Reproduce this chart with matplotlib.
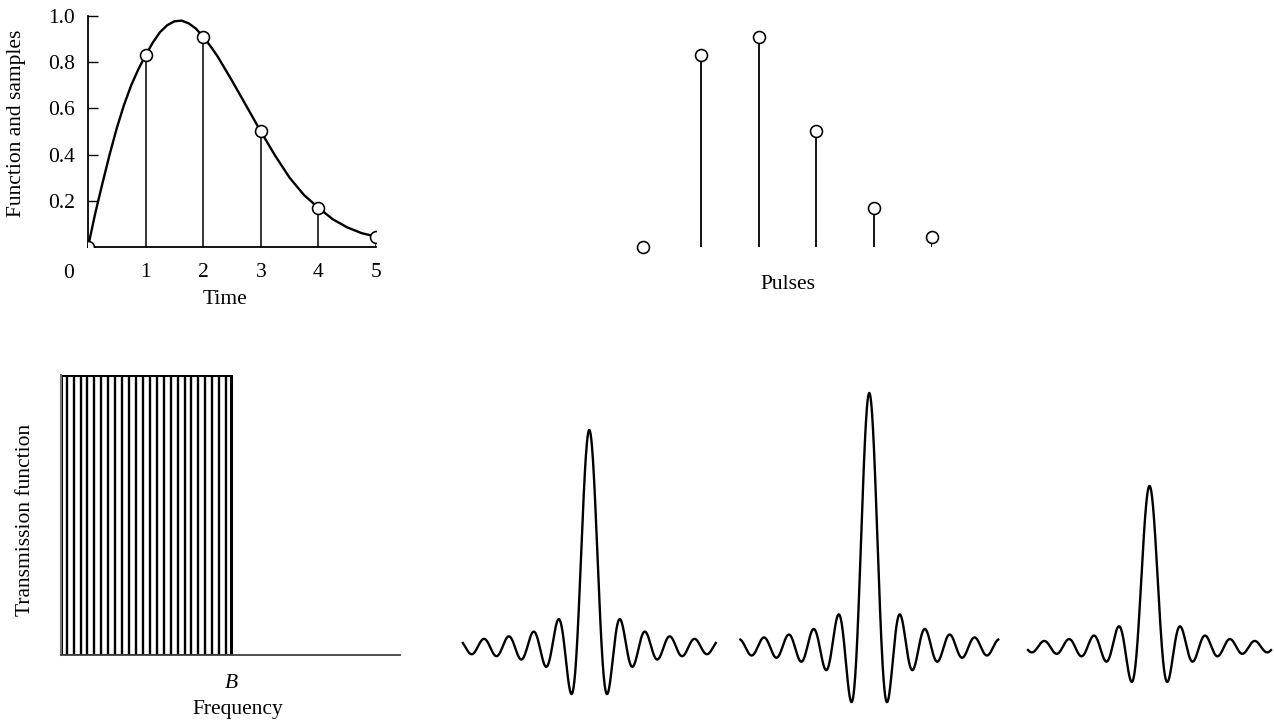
import numpy as np
import matplotlib
matplotlib.use("Agg")
import matplotlib.pyplot as plt

plt.rcParams['font.family'] = ['Liberation Serif', 'DejaVu Serif']
plt.rcParams['font.size'] = 15.5

t_curve = [0, 0.125, 0.25, 0.375, 0.5, 0.625, 0.75, 0.875, 1.0, 1.125, 1.25, 1.375,
           1.5, 1.625, 1.75, 1.875, 2.0, 2.125, 2.25, 2.5,
           2.75, 3.0, 3.25, 3.5, 3.75, 4.0, 4.25, 4.5, 4.75, 5.0]
f_curve = [0, 0.145, 0.275, 0.40, 0.515, 0.615, 0.70, 0.77, 0.83, 0.885, 0.93, 0.96,
           0.977, 0.98, 0.968, 0.945, 0.91, 0.87, 0.825, 0.72,
           0.61, 0.50, 0.395, 0.30, 0.225, 0.17, 0.12, 0.085, 0.06, 0.045]
sample_t = [0, 1, 2, 3, 4, 5]
sample_v = [0.0, 0.83, 0.91, 0.50, 0.17, 0.045]
ytick_vals = [0.2, 0.4, 0.6, 0.8, 1.0]
ytick_labels = ['0.2', '0.4', '0.6', '0.8', '1.0']

# transmission function: comb of components up to band limit B
B = 24.53
component_freqs = np.arange(24) + 0.82
freq_max = 48.9

# received sinc pulses
pulse_centers = [0.0, 22.58, 45.18]
pulse_amps = [0.854, 1.0, 0.634]
pulse_halfspan = [10.2, 10.4, 9.8]

W, H = 1274, 722
fig = plt.figure(figsize=(W / 100, H / 100), dpi=100)


def px_axes(x0, y0, x1, y1):
    return fig.add_axes([x0 / W, 1 - y1 / H, (x1 - x0) / W, (y1 - y0) / H])


# ---- function and samples
ax = px_axes(88, 16, 376, 247)
ax.plot(t_curve, f_curve, 'k-', lw=1.7, solid_joinstyle='round')
ax.vlines(sample_t, 0, sample_v, colors='k', lw=1.1)
ax.plot(sample_t, sample_v, 'o', ms=8.6, mfc='white', mec='k', mew=1.15, zorder=3)
ax.set_xlim(0, 5)
ax.set_ylim(0, 1)
for s in ['top', 'right']:
    ax.spines[s].set_visible(False)
for s in ['left', 'bottom']:
    ax.spines[s].set_linewidth(1.3)
ax.set_yticks(ytick_vals)
ax.set_yticklabels(ytick_labels)
ax.set_xticks(sample_t[1:])
ax.set_xticklabels([str(t) for t in sample_t[1:]])
ax.tick_params(axis='y', direction='in', length=7, width=1, pad=9.5)
ax.tick_params(axis='x', length=0, pad=11.5)
ax.annotate('0', xy=(0, 0), xytext=(-10, -12), textcoords='offset points',
            ha='right', va='top')
ax.set_xlabel('Time')
ax.xaxis.set_label_coords(0.476, -0.186)
ax.set_ylabel('Function and samples')
ax.yaxis.set_label_coords(-0.215, 0.537)

# ---- pulses
ax2 = px_axes(643, 16, 932, 247)
ax2.vlines(sample_t, 0, sample_v, colors='k', lw=1.3)
ax2.plot(sample_t, sample_v, 'o', ms=8.6, mfc='white', mec='k', mew=1.15,
         zorder=3, clip_on=False)
ax2.set_xlim(0, 5)
ax2.set_ylim(0, 1)
for s in ax2.spines.values():
    s.set_visible(False)
ax2.set_xticks([])
ax2.set_yticks([])
ax2.set_xlabel('Pulses')
ax2.xaxis.set_label_coords(0.5, -0.12)

# ---- transmission function
ax3 = px_axes(61, 375, 400, 655)
ax3.vlines(component_freqs, 0, 1, colors='k', lw=1.7)
ax3.plot([0, 0, B, B], [0, 1, 1, 0], 'k-', lw=2.2, solid_joinstyle='miter')
ax3.plot([0, B], [0, 0], 'k-', lw=2.2)
ax3.set_xlim(0, freq_max)
ax3.set_ylim(0, 1)
for s in ['top', 'right']:
    ax3.spines[s].set_visible(False)
ax3.spines['left'].set_color('0.45')
ax3.spines['left'].set_linewidth(1.5)
ax3.spines['bottom'].set_color('0.25')
ax3.spines['bottom'].set_linewidth(1.3)
ax3.set_yticks([])
ax3.set_xticks([B])
ax3.set_xticklabels(['B'], fontstyle='italic')
ax3.tick_params(axis='x', length=0, pad=14)
ax3.set_xlabel('Frequency')
ax3.xaxis.set_label_coords(0.522, -0.16)
ax3.set_ylabel('Transmission function')
ax3.yaxis.set_label_coords(-0.077, 0.484)

# ---- sinc pulses
ax4 = px_axes(455, 380, 1274, 712)
for c, a, hs in zip(pulse_centers, pulse_amps, pulse_halfspan):
    x = np.linspace(-hs, hs, 800)
    ax4.plot(x + c, a * np.sinc(x), 'k-', lw=1.7)
ax4.set_xlim(-10.83, 55.22)
ax4.set_ylim(-0.256, 1.051)
ax4.axis('off')

fig.savefig('out.png', dpi=100)
